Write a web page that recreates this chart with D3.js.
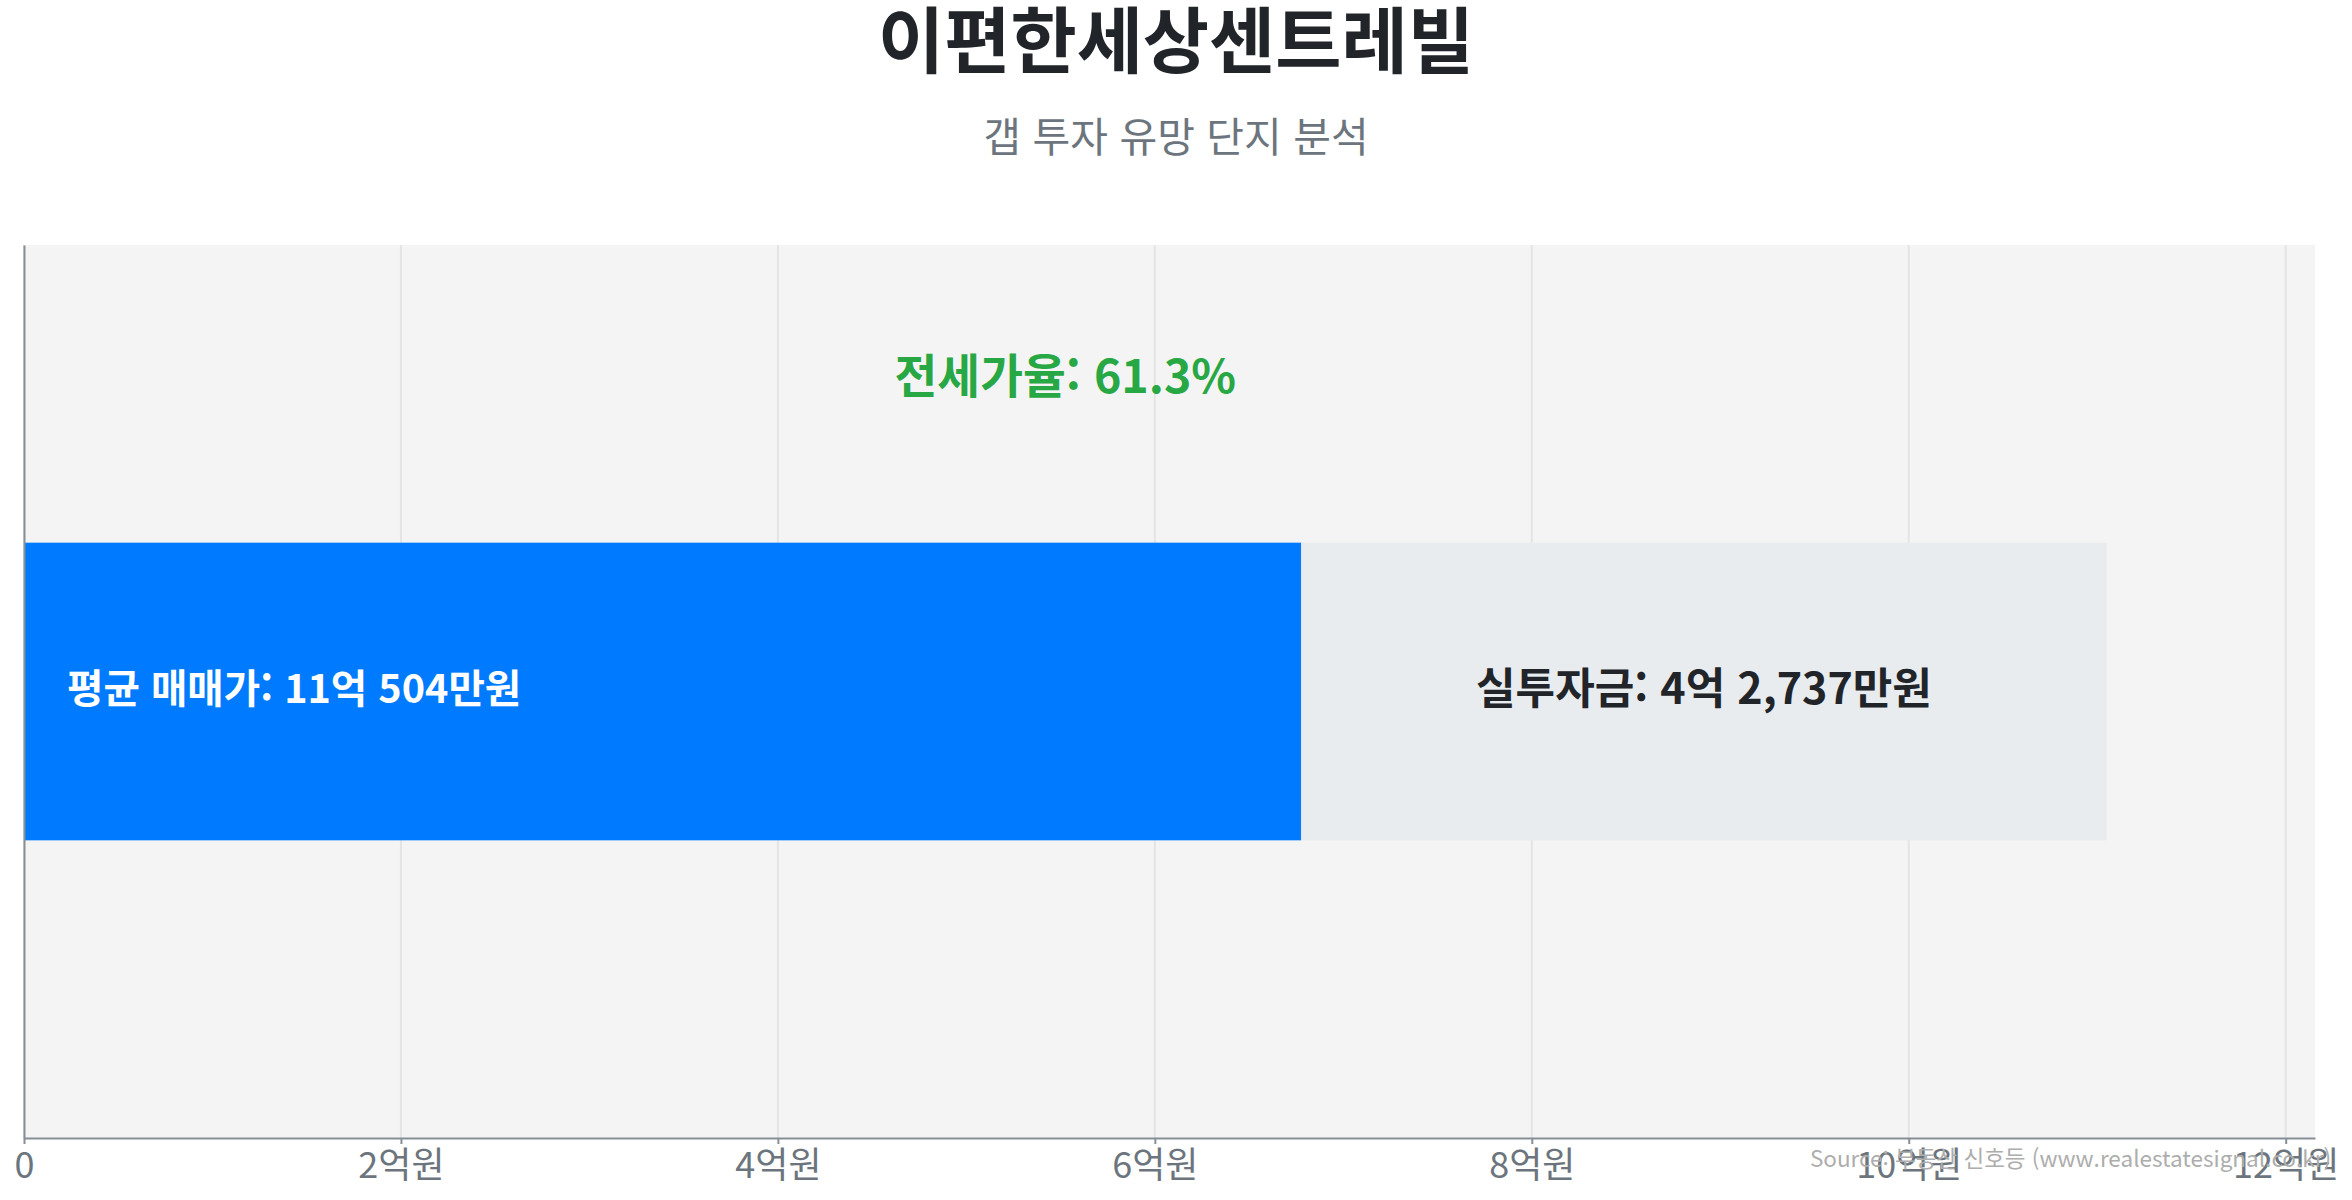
<!DOCTYPE html>
<html lang="ko">
<head>
<meta charset="utf-8">
<script src="https://cdn.jsdelivr.net/npm/d3@7"></script>
<style>
  body { margin: 0; background: #fff; }
  svg text { font-family: "Noto Sans CJK KR", "Noto Sans", sans-serif; }
</style>
</head>
<body>
<div id="chart"></div>
<script>
// values in 만원
const complexNames = ['이편한세상센트레빌'];
const avgPrices = [110504];
const investAmounts = [42737];
const jeonseRates = [61.3];
const xTicks = [0, 2, 4, 6, 8, 10, 12]; // 억원

const width = 2352, height = 1200;
const margin = {top: 245, right: 37, bottom: 62, left: 24};

const svg = d3.select('#chart')
  .append('svg')
  .attr('width', width)
  .attr('height', height);

/*titles*/
svg.append('text')
  .attr('x', width / 2)
  .attr('y', 67)
  .attr('text-anchor', 'middle')
  .attr('font-size', 72)
  .attr('font-weight', 700)
  .attr('fill', '#212529')
  .text(complexNames[0]);

svg.append('text')
  .attr('x', width / 2)
  .attr('y', 152)
  .attr('text-anchor', 'middle')
  .attr('font-size', 41)
  .attr('fill', '#6c757d')
  .text('갭 투자 유망 단지 분석');

const g = svg.append('g')
  .attr('transform', `translate(${margin.left},${margin.top})`);

const w = width - margin.left - margin.right,
      h = height - margin.top - margin.bottom;

let toEok = (v) => v / 10000;

let x = d3.scaleLinear()
  .domain([0, toEok(d3.max(avgPrices)) * 1.1])
  .range([0, w]);

let y = d3.scaleBand()
  .domain(complexNames)
  .range([0, h])
  .padding(0.5);

g.append('rect')
  .attr('width', w)
  .attr('height', h)
  .attr('fill', '#f4f4f4');

/*grid*/
g.selectAll('.grid')
  .data(xTicks)
  .enter()
  .append('line')
  .attr('x1', (d) => x(d))
  .attr('x2', (d) => x(d))
  .attr('y1', 0)
  .attr('y2', h)
  .attr('stroke', '#e4e4e4')
  .attr('stroke-width', 2);

let rows = complexNames.map((name, i) => ({
  name: name,
  price: avgPrices[i],
  invest: investAmounts[i],
  jeonse: avgPrices[i] - investAmounts[i],
  rate: jeonseRates[i]
}));

let fmtMoney = (v) => {
  let eok = Math.floor(v / 10000), man = v % 10000;
  return `${eok}억 ${d3.format(',')(man)}만원`;
};

/*bars*/
g.selectAll('.jeonse')
  .data(rows)
  .enter()
  .append('rect')
  .attr('x', x(0))
  .attr('y', (d) => y(d.name))
  .attr('width', (d) => x(toEok(d.jeonse)) - x(0))
  .attr('height', y.bandwidth())
  .attr('fill', '#007bff');

g.selectAll('.invest')
  .data(rows)
  .enter()
  .append('rect')
  .attr('x', (d) => x(toEok(d.jeonse)))
  .attr('y', (d) => y(d.name))
  .attr('width', (d) => x(toEok(d.price)) - x(toEok(d.jeonse)))
  .attr('height', y.bandwidth())
  .attr('fill', '#e9ecef');

/*labels*/
g.selectAll('.price-label')
  .data(rows)
  .enter()
  .append('text')
  .attr('x', x(0) + 43)
  .attr('y', (d) => y(d.name) + y.bandwidth() / 2)
  .attr('dy', '0.29em')
  .attr('font-size', 39.6)
  .attr('font-weight', 700)
  .attr('fill', '#fff')
  .text((d) => `평균 매매가: ${fmtMoney(d.price)}`);

g.selectAll('.invest-label')
  .data(rows)
  .enter()
  .append('text')
  .attr('x', (d) => (x(toEok(d.jeonse)) + x(toEok(d.price))) / 2)
  .attr('y', (d) => y(d.name) + y.bandwidth() / 2)
  .attr('dy', '0.29em')
  .attr('text-anchor', 'middle')
  .attr('font-size', 43)
  .attr('font-weight', 700)
  .attr('fill', '#212529')
  .text((d) => `실투자금: ${fmtMoney(d.invest)}`);

g.selectAll('.rate-label')
  .data(rows)
  .enter()
  .append('text')
  .attr('x', (d) => x(toEok(d.price) / 2))
  .attr('y', (d) => y(d.name) - 150)
  .attr('text-anchor', 'middle')
  .attr('font-size', 46.5)
  .attr('font-weight', 700)
  .attr('fill', '#28a745')
  .text((d) => `전세가율: ${d.rate}%`);

/*axes*/
let xAxis = g.append('g')
  .attr('transform', `translate(0,${h})`)
  .call(d3.axisBottom(x)
    .tickValues(xTicks)
    .tickSize(6)
    .tickSizeOuter(0)
    .tickPadding(8)
    .tickFormat((d) => d === 0 ? '0' : `${d}억원`));

xAxis.selectAll('path, line')
  .attr('stroke', '#868e96')
  .attr('stroke-width', 2);
xAxis.selectAll('text')
  .attr('font-size', 36)
  .attr('fill', '#6c757d')
  .attr('font-family', '"Noto Sans CJK KR", sans-serif');

let yAxis = g.append('g')
  .call(d3.axisLeft(y).tickSize(0).tickSizeOuter(0).tickFormat(''));

yAxis.select('path')
  .attr('stroke', '#868e96')
  .attr('stroke-width', 2);

/*source*/
svg.append('text')
  .attr('x', 2331)
  .attr('y', 1167)
  .attr('text-anchor', 'end')
  .attr('font-size', 22.5)
  .attr('fill', '#adadad')
  .text('Source: 부동산 신호등 (www.realestatesignal.co.kr)');
</script>
</body>
</html>
